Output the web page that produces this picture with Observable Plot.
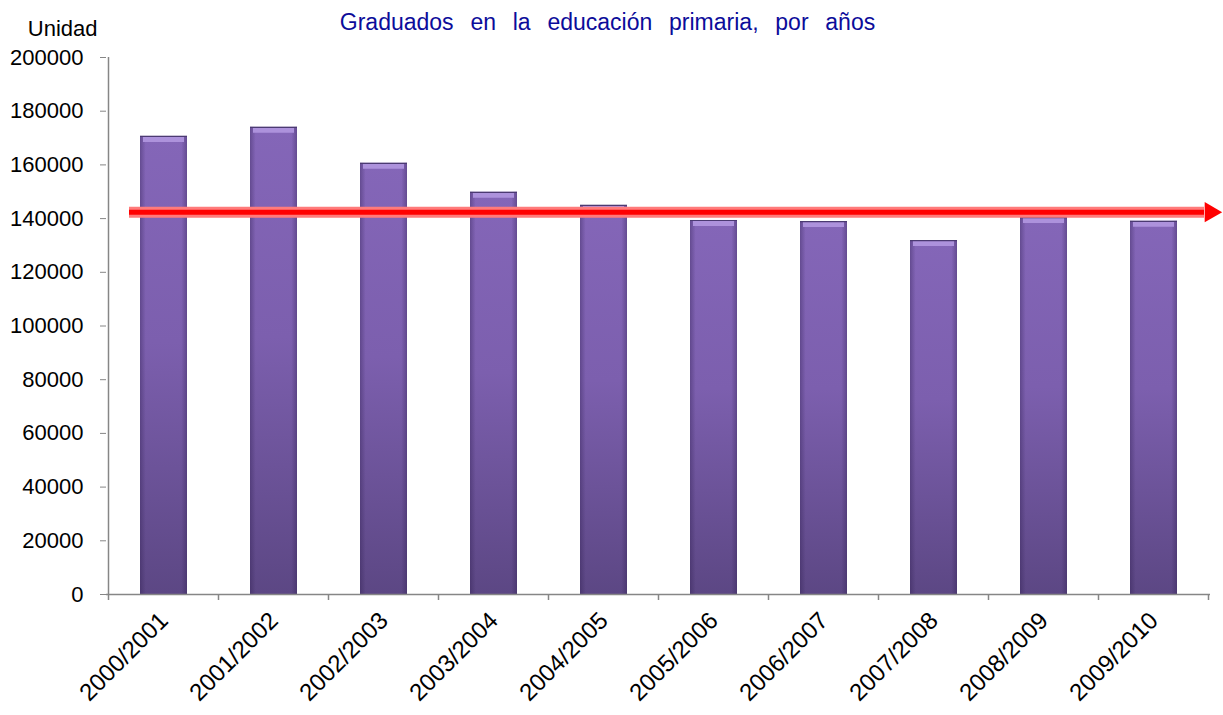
<!DOCTYPE html>
<html>
<head>
<meta charset="utf-8">
<script src="https://cdn.jsdelivr.net/npm/d3@7"></script>
<script src="https://cdn.jsdelivr.net/npm/@observablehq/plot@0.6"></script>
<style>
  html, body { margin: 0; padding: 0; background: #fff; }
  svg { font-family: "Liberation Sans", Arial, sans-serif; }
</style>
</head>
<body>
<div id="chart"></div>
<script>
const years = ["2000/2001","2001/2002","2002/2003","2003/2004","2004/2005","2005/2006","2006/2007","2007/2008","2008/2009","2009/2010"];
const graduates = [170600, 174000, 160600, 149800, 144900, 139300, 138900, 131800, 140400, 139000];
const referenceValue = [142400];
const yTicks = [0,20000,40000,60000,80000,100000,120000,140000,160000,180000,200000];
const titleText = ["Graduados  en  la  educación  primaria,  por  años"];
const unitText = ["Unidad"];

const data = years.map((y, i) => ({year: y, value: graduates[i]}));

const plot = Plot.plot({
  width: 1223,
  height: 715,
  marginLeft: 106,
  marginRight: 13,
  marginTop: 57,
  marginBottom: 121,
  style: {fontFamily: "'Liberation Sans', Arial, sans-serif", background: "#fff", color: "#000"},
  x: {domain: years, paddingInner: 0.575, paddingOuter: 0.2875, label: null},
  y: {domain: [0, 200000], label: null},
  marks: [
    Plot.barY(data, {x: "year", y: "value", fill: "url(#barGrad)"}),
    Plot.barY(data, {x: "year", y: "value", fill: "url(#barEdge)"}),
    Plot.tickY(data, {x: "year", y: "value", stroke: "#ad92dc", strokeWidth: 5, dy: 3, insetLeft: 3, insetRight: 3}),
    Plot.tickY(data, {x: "year", y: "value", stroke: "#4b3a72", strokeWidth: 1.2}),
    Plot.ruleY(referenceValue, {stroke: "#ff7b7b", strokeWidth: 11, insetLeft: 23, insetRight: 6}),
    Plot.ruleY(referenceValue, {stroke: "#ff0000", strokeWidth: 5, insetLeft: 23, insetRight: 6}),
    Plot.dot(referenceValue, {y: d => d, frameAnchor: "right", symbol: "triangle", rotate: 90, r: 7.5, fill: "#ff0000", stroke: "none", dx: 0}),
    Plot.axisY({ticks: yTicks, tickFormat: d => String(d), tickSize: 6, tickPadding: 17, fontSize: 22, stroke: "#868686", color: "#000"}),
    Plot.axisX({tickSize: 0, tickRotate: -45, tickPadding: 22, fontSize: 24, label: null}),
    Plot.ruleY([0], {stroke: "#868686", strokeWidth: 1.5}),
    Plot.text(titleText, {frameAnchor: "top", dx: -51, dy: -44, fontSize: 23, fill: "#0c0c9a", text: d => d}),
    Plot.text(unitText, {frameAnchor: "top-left", textAnchor: "end", dx: -9, dy: -37, fontSize: 22, fill: "#000", text: d => d})
  ]
});

// gradients
const svg = d3.select(plot);
const defs = svg.insert("defs", ":first-child");
const g1 = defs.append("linearGradient").attr("id", "barGrad").attr("x1", 0).attr("y1", 0).attr("x2", 0).attr("y2", 1);
g1.append("stop").attr("offset", "0%").attr("stop-color", "#8466b8");
g1.append("stop").attr("offset", "45%").attr("stop-color", "#7c5fae");
g1.append("stop").attr("offset", "100%").attr("stop-color", "#5c4784");
const g2 = defs.append("linearGradient").attr("id", "barEdge").attr("x1", 0).attr("y1", 0).attr("x2", 1).attr("y2", 0);
g2.append("stop").attr("offset", "0%").attr("stop-color", "#2a1a4a").attr("stop-opacity", 0.35);
g2.append("stop").attr("offset", "12%").attr("stop-color", "#2a1a4a").attr("stop-opacity", 0);
g2.append("stop").attr("offset", "88%").attr("stop-color", "#2a1a4a").attr("stop-opacity", 0);
g2.append("stop").attr("offset", "100%").attr("stop-color", "#2a1a4a").attr("stop-opacity", 0.35);

// axis lines and x-axis tick marks at band boundaries, from the plot's own scales
const xs = plot.scale("x");
const ys = plot.scale("y");
const step = xs.step, bw = xs.bandwidth;
const gap = (step - bw) / 2;
const y0 = ys.apply(0);
const yTop = ys.apply(200000);
const bounds = years.map(d => xs.apply(d) - gap);
bounds.push(xs.apply(years[years.length - 1]) + bw + gap);
const tg = svg.append("g").attr("stroke", "#868686").attr("stroke-width", 1.5);
bounds.forEach(b => tg.append("line").attr("x1", b).attr("x2", b).attr("y1", y0).attr("y2", y0 + 6));
tg.append("line").attr("x1", bounds[0]).attr("x2", bounds[0]).attr("y1", yTop).attr("y2", y0);

svg.selectAll("text").filter(function(){ return this.textContent.startsWith("Graduados"); }).style("word-spacing", "2px");
document.getElementById("chart").appendChild(plot);
</script>
</body>
</html>
